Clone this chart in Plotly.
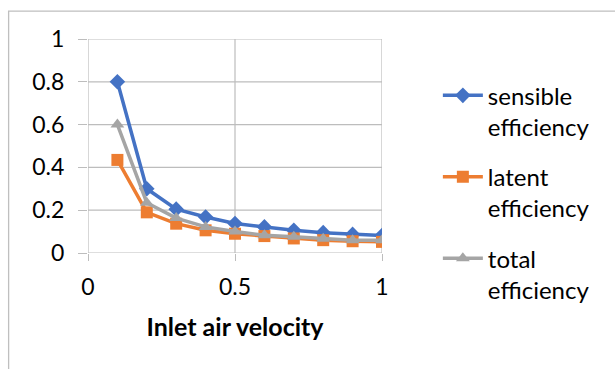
import plotly.graph_objects as go

velocity = [0.1, 0.2, 0.3, 0.4, 0.5, 0.6, 0.7, 0.8, 0.9, 1.0]
sensible = [0.80, 0.30, 0.205, 0.168, 0.138, 0.122, 0.106, 0.095, 0.087, 0.082]
latent = [0.435, 0.19, 0.137, 0.106, 0.090, 0.079, 0.068, 0.060, 0.055, 0.052]
total = [0.60, 0.235, 0.163, 0.122, 0.100, 0.083, 0.076, 0.067, 0.060, 0.059]

names = ["sensible<br>efficiency", "latent<br>efficiency", "total<br>efficiency"]
colors = ["#4472C4", "#ED7D31", "#A5A5A5"]
symbols = ["diamond", "square", "triangle-up"]
series = [sensible, latent, total]

x_ticks = [0, 0.5, 1]
y_ticks = [0, 0.2, 0.4, 0.6, 0.8, 1.0]
y_ticktext = ["0", "0.2", "0.4", "0.6", "0.8", "1"]

FONT = "Lato"
GRID = "#BDBDBD"

fig = go.Figure()
for i, (name, vals, col, sym) in enumerate(zip(names, series, colors, symbols)):
    fig.add_trace(go.Scatter(
        x=velocity, y=vals, name=name, mode="lines+markers", legendgroup=f"g{i}",
        line=dict(color=col, width=3.5),
        marker=dict(symbol=sym, size=12, color=col),
    ))

shapes = [dict(
    type="rect", xref="paper", yref="paper",
    x0=-0.27, x1=2.0, y0=-1.0, y1=1.13,
    line=dict(color="#BFBFBF", width=1.3), fillcolor="rgba(0,0,0,0)", layer="below",
)]
for v in y_ticks:
    shapes.append(dict(type="line", xref="paper", yref="y", x0=0, x1=1, y0=v, y1=v,
                       line=dict(color=GRID, width=1.2), layer="below"))
for v in x_ticks:
    shapes.append(dict(type="line", xref="x", yref="paper", x0=v, x1=v, y0=0, y1=1,
                       line=dict(color=GRID, width=1.2), layer="below"))

fig.update_layout(
    width=615, height=369,
    margin=dict(l=88, r=233, t=39, b=116),
    paper_bgcolor="white", plot_bgcolor="white",
    font=dict(family=FONT, size=23, color="#000000"),
    showlegend=True,
    legend=dict(
        x=1.19, xanchor="left", y=0.84, yanchor="top",
        font=dict(family=FONT, size=24, color="#000000"),
        bgcolor="rgba(0,0,0,0)", valign="top",
        itemwidth=40, traceorder="grouped", tracegroupgap=16,
        maxheight=360,
    ),
    xaxis=dict(
        range=[0, 1], tickvals=x_ticks, ticktext=["0", "0.5", "1"],
        showgrid=False, zeroline=False, showline=False,
        ticks="outside", ticklen=7, tickcolor=GRID, tickwidth=1.2,
        ticklabelstandoff=6,
        title=dict(text="<b>Inlet air velocity</b>", font=dict(family=FONT, size=25), standoff=19),
    ),
    yaxis=dict(
        range=[0, 1], tickvals=y_ticks, ticktext=y_ticktext,
        showgrid=False, zeroline=False, showline=False,
        ticks="outside", ticklen=9, tickcolor=GRID, tickwidth=1.2,
        ticklabelstandoff=9,
    ),
    shapes=shapes,
)

fig.write_html("out.html")
